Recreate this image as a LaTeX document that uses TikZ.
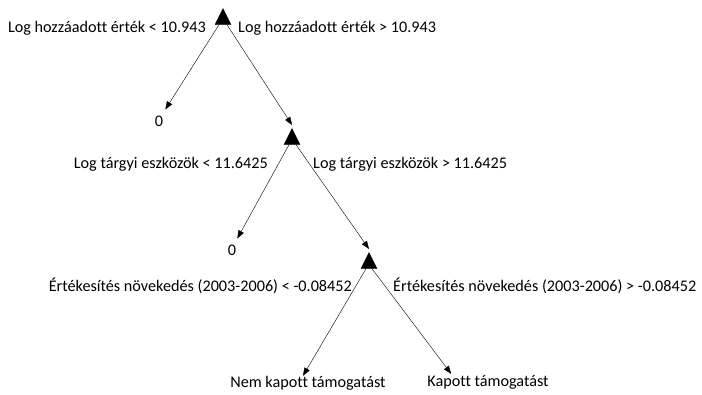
\documentclass[tikz,border=0pt]{standalone}
\usepackage{fontspec}
\setmainfont[Ligatures=NoCommon]{Carlito}
\usetikzlibrary{
	arrows.meta,
	shapes.geometric,
}
\tikzset{split node/.style={draw,fill=black,isosceles triangle,shape border rotate=90,isosceles triangle stretches,minimum width=16pt,minimum height=16pt,inner sep=0pt,}}
\tikzset{leaf/.style={inner sep=0pt,font=\fontsize{16.2}{19}\selectfont,}}
\tikzset{cond/.style={leaf,}}
\tikzset{
	>={Triangle[length=8pt,width=6pt]},
	line width=0.6pt,
}

\begin{document}
\begin{tikzpicture}[x=1pt, y=-1pt]

\useasboundingbox (0,0) rectangle (702,395);

% split points
\node[split node,anchor=apex](t1) at(223,8){};
\node[split node,anchor=apex](t2) at(292,128){};
\node[split node,anchor=apex](t3) at(369,252){};

% leaves
\node[leaf](z1) at(159,121){0};
\node[leaf](z2) at(232,250){0};
\node[leaf](nem) at(308,383){Nem kapott támogatást};
\node[leaf](kap) at(488,382){Kapott támogatást};

% conditions
\node[cond,anchor=east](c1l) at(206,28){Log hozzáadott érték < 10.943};
\node[cond,anchor=west](c1r) at(238,28){Log hozzáadott érték > 10.943};
\node[cond,anchor=east](c2l) at(268,164){Log tárgyi eszközök < 11.6425};
\node[cond,anchor=west](c2r) at(313,164){Log tárgyi eszközök > 11.6425};
\node[cond,anchor=east](c3l) at(352,286){Értékesítés növekedés (2003-2006) < -0.08452};
\node[cond,anchor=west](c3r) at(393,286){Értékesítés növekedés (2003-2006) > -0.08452};

\foreach \n/\m in {t1/t2,t2/t3}{
	\draw[->] ([xshift=4pt]\n.south) -- ([yshift=3pt]\m.apex);
}

\draw[->] ([xshift=-4pt]t1.south) -- ([shift={(2pt,6pt)}]z1.north east);
\draw[->] ([xshift=-3pt]t2.south) -- ([shift={(1pt,6pt)}]z2.north east);
\draw[->] ([xshift=-3pt]t3.south) -- ([xshift=-5pt]nem.north);
\draw[->] ([xshift=3pt]t3.south) -- ([shift={(24pt,1pt)}]kap.north west);

\end{tikzpicture}
\end{document}
